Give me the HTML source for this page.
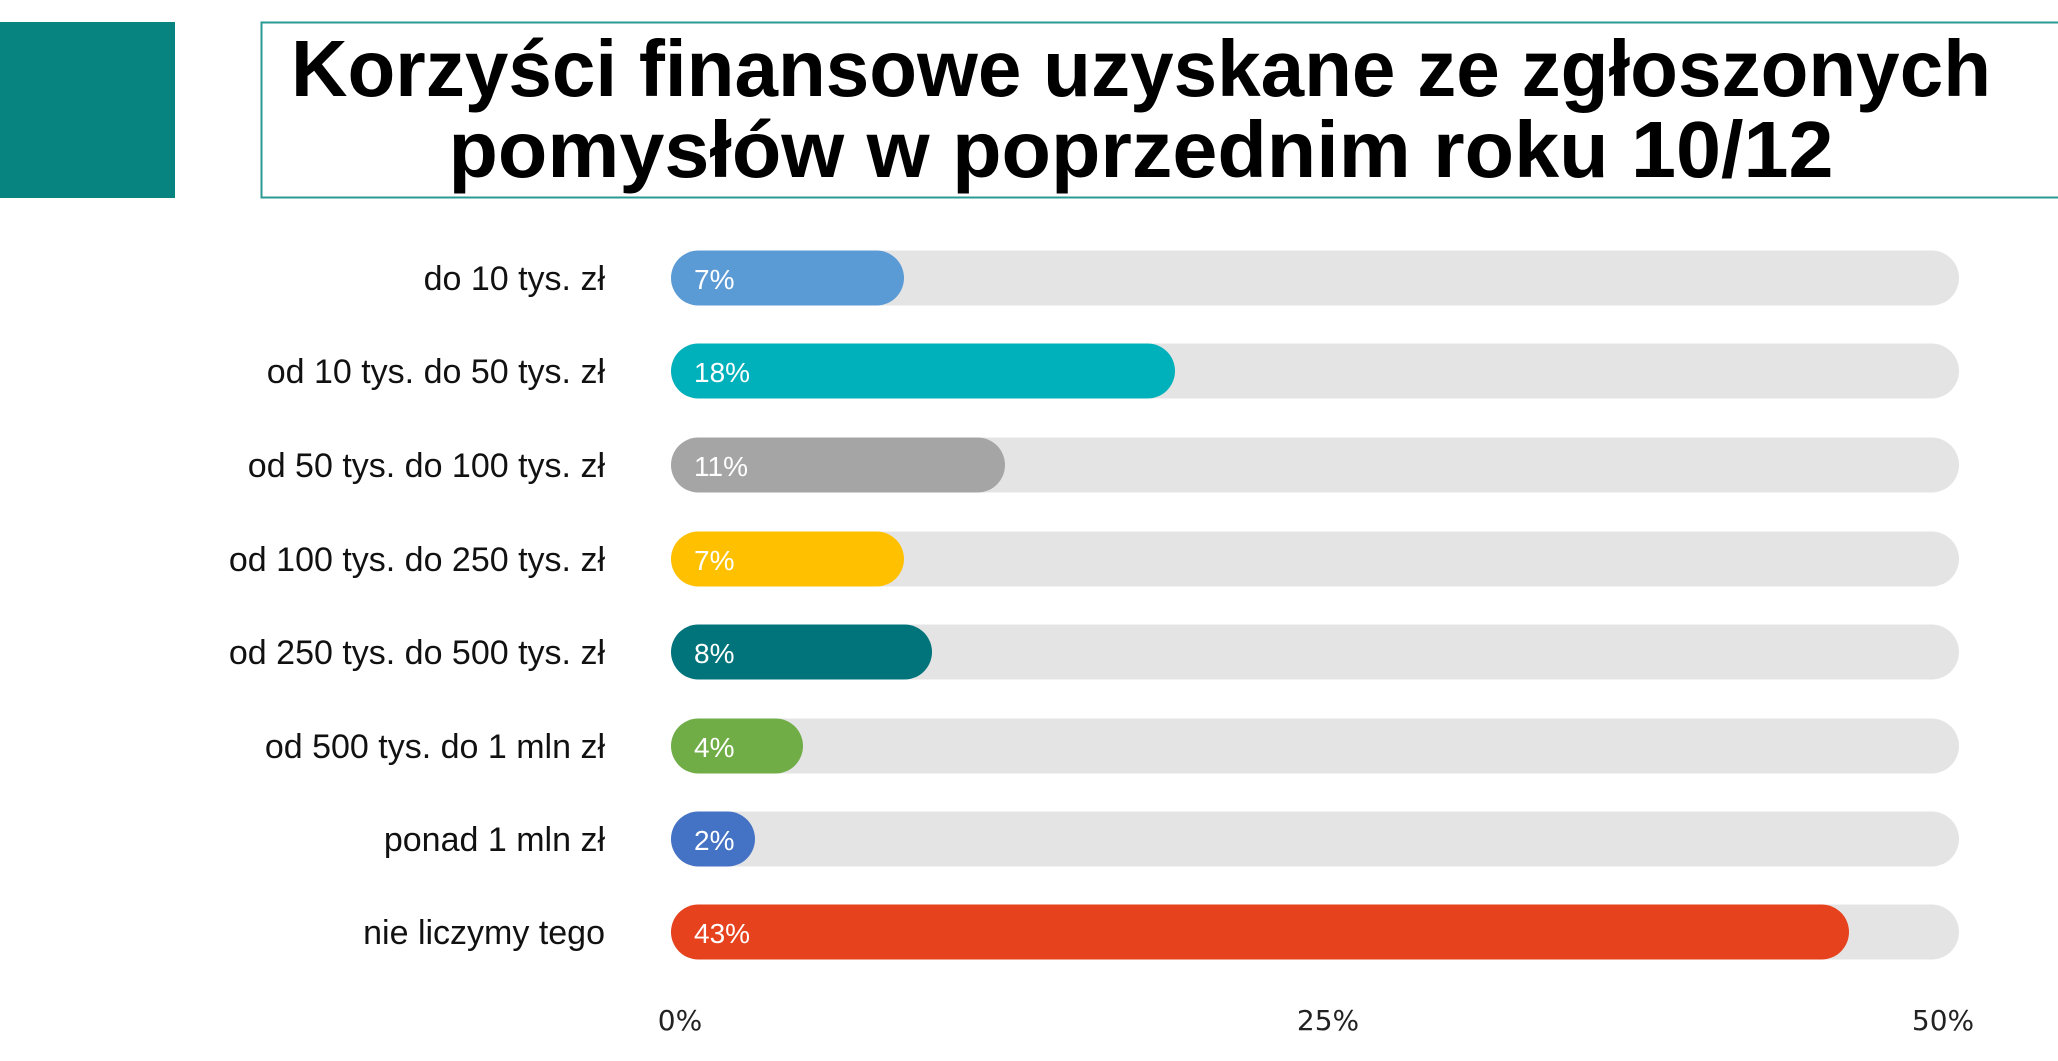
<!DOCTYPE html>
<html><head><meta charset="utf-8"><style>html,body{margin:0;padding:0;background:#fff}svg{display:block}</style></head>
<body>
<svg width="2058" height="1061" xmlns="http://www.w3.org/2000/svg">
<rect x="0" y="22" width="175" height="176" fill="#07847f"/>
<rect x="261.5" y="22.5" width="1900" height="175" fill="#fff" stroke="#2a9a94" stroke-width="2"/>
<g font-family="'Liberation Sans', sans-serif" font-weight="bold" font-size="80" fill="#000" text-anchor="middle">
<text x="1141" y="96" textLength="1700" lengthAdjust="spacingAndGlyphs">Korzyści finansowe uzyskane ze zgłoszonych</text>
<text x="1141" y="177" textLength="1385" lengthAdjust="spacingAndGlyphs">pomysłów w poprzednim roku 10/12</text>
</g>
<g font-family="'Liberation Sans', sans-serif" font-size="34" fill="#111" text-anchor="end">
<text x="605" y="290">do 10 tys. zł</text>
<text x="605" y="383">od 10 tys. do 50 tys. zł</text>
<text x="605" y="477">od 50 tys. do 100 tys. zł</text>
<text x="605" y="571">od 100 tys. do 250 tys. zł</text>
<text x="605" y="664">od 250 tys. do 500 tys. zł</text>
<text x="605" y="758">od 500 tys. do 1 mln zł</text>
<text x="605" y="851">ponad 1 mln zł</text>
<text x="605" y="944">nie liczymy tego</text>
</g>
<g fill="#e4e4e4">
<rect x="671" y="250.5" width="1288" height="55" rx="27.5"/>
<rect x="671" y="343.5" width="1288" height="55" rx="27.5"/>
<rect x="671" y="437.5" width="1288" height="55" rx="27.5"/>
<rect x="671" y="531.5" width="1288" height="55" rx="27.5"/>
<rect x="671" y="624.5" width="1288" height="55" rx="27.5"/>
<rect x="671" y="718.5" width="1288" height="55" rx="27.5"/>
<rect x="671" y="811.5" width="1288" height="55" rx="27.5"/>
<rect x="671" y="904.5" width="1288" height="55" rx="27.5"/>
</g>
<rect x="671" y="250.5" width="233" height="55" rx="27.5" fill="#5b9bd5"/>
<rect x="671" y="343.5" width="504" height="55" rx="27.5" fill="#00b0ba"/>
<rect x="671" y="437.5" width="334" height="55" rx="27.5" fill="#a5a5a5"/>
<rect x="671" y="531.5" width="233" height="55" rx="27.5" fill="#ffc000"/>
<rect x="671" y="624.5" width="261" height="55" rx="27.5" fill="#00747a"/>
<rect x="671" y="718.5" width="132" height="55" rx="27.5" fill="#70ad47"/>
<rect x="671" y="811.5" width="84" height="55" rx="27.5" fill="#4472c4"/>
<rect x="671" y="904.5" width="1178" height="55" rx="27.5" fill="#e6421e"/>
<g font-family="'Liberation Sans', sans-serif" font-size="28" fill="#fff">
<text x="694" y="289">7%</text>
<text x="694" y="382">18%</text>
<text x="694" y="476">11%</text>
<text x="694" y="570">7%</text>
<text x="694" y="663">8%</text>
<text x="694" y="757">4%</text>
<text x="694" y="850">2%</text>
<text x="694" y="943">43%</text>
</g>
<g font-family="'DejaVu Sans', 'Liberation Sans', sans-serif" font-size="28" fill="#222" text-anchor="middle">
<text x="680" y="1030">0%</text>
<text x="1328" y="1030">25%</text>
<text x="1943" y="1030">50%</text>
</g>
</svg>
</body></html>
